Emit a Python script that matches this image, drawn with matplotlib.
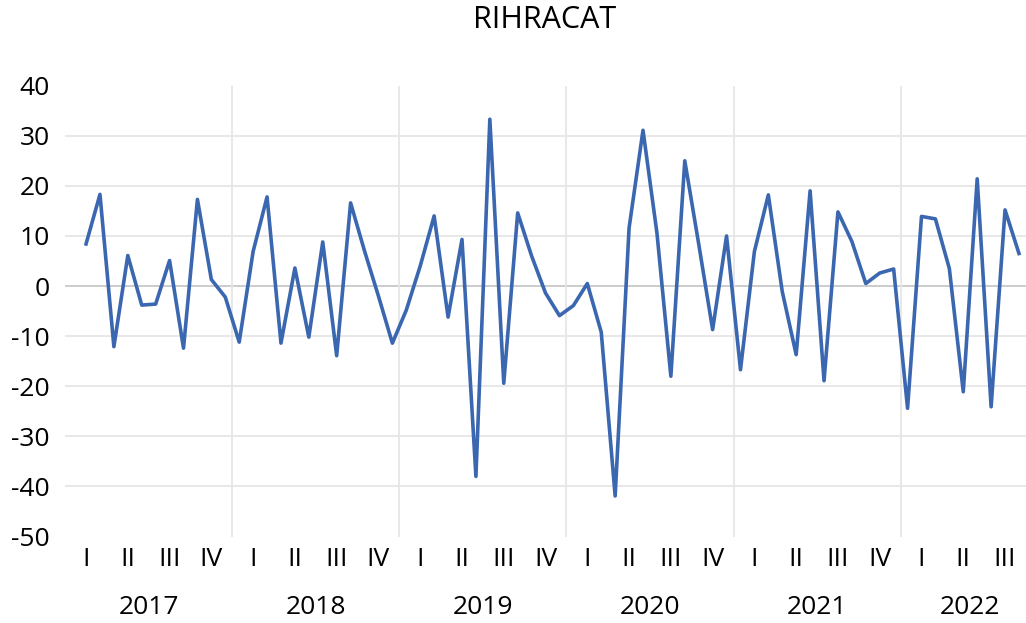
import numpy as np
import matplotlib.pyplot as plt

# monthly values, Jan 2017 .. Aug 2022
values = [
    8.4, 18.3, -12.1, 6.1, -3.8, -3.6, 5.1, -12.4, 17.3, 1.3, -2.2, -11.2,   # 2017
    6.9, 17.8, -11.4, 3.6, -10.2, 8.8, -13.9, 16.6, 7.0, -2.0, -11.4, -4.8,  # 2018
    4.0, 14.0, -6.2, 9.3, -38.0, 33.3, -19.4, 14.6, 6.0, -1.4, -5.9, -3.9,   # 2019
    0.5, -9.2, -41.9, 11.6, 31.1, 10.6, -18.0, 25.0, 8.4, -8.7, 10.0, -16.7, # 2020
    6.9, 18.2, -1.1, -13.7, 19.0, -18.9, 14.8, 8.9, 0.5, 2.6, 3.4, -24.4,    # 2021
    13.9, 13.4, 3.5, -21.1, 21.4, -24.1, 15.2, 6.5,                          # 2022
]
years = ["2017", "2018", "2019", "2020", "2021", "2022"]
quarters = ["I", "II", "III", "IV"]
title = "RIHRACAT"

plt.rcParams['font.family'] = ['Open Sans', 'DejaVu Sans']
plt.rcParams['axes.unicode_minus'] = False

fig = plt.figure(figsize=(10.26, 6.23), dpi=100)
ax = fig.add_axes([0.0635, 0.1388, 0.950, 0.7237])

x = np.arange(len(values))
ax.set_xlim(-1.5, 68.5)
ax.set_ylim(-50, 40)

# horizontal gridlines (zero line a bit darker)
for v in range(-40, 40, 10):
    col = "#c8c8c8" if v == 0 else "#e6e6e6"
    ax.axhline(v, color=col, lw=1.3, zorder=1)
# vertical year separators
for i in range(1, len(years)):
    ax.axvline(12 * i - 1.5, color="#e6e6e6", lw=1.3, zorder=1)

ax.plot(x, values, color="#3b67b0", lw=2.6, zorder=3)

for s in ax.spines.values():
    s.set_visible(False)
ax.set_xticks([])
ax.set_yticks(range(-50, 41, 10))
ax.tick_params(axis="y", length=0, labelsize=19, pad=11)

# quarter labels at first month of each quarter
for i in range(0, len(values), 3):
    ax.text(i, -54.6, quarters[(i // 3) % 4], ha="center", va="center",
            fontsize=19, clip_on=False)
# year labels centered on each year group
for k, yr in enumerate(years):
    lo = 12 * k - 1.5
    hi = min(12 * k + 10.5, 68.5)
    ax.text((lo + hi) / 2, -64.2, yr, ha="center", va="center",
            fontsize=19, clip_on=False)

fig.text(545 / 1026, 1 - 20 / 623, title, ha="center", va="center", fontsize=22)

fig.savefig("out.png", dpi=100)
